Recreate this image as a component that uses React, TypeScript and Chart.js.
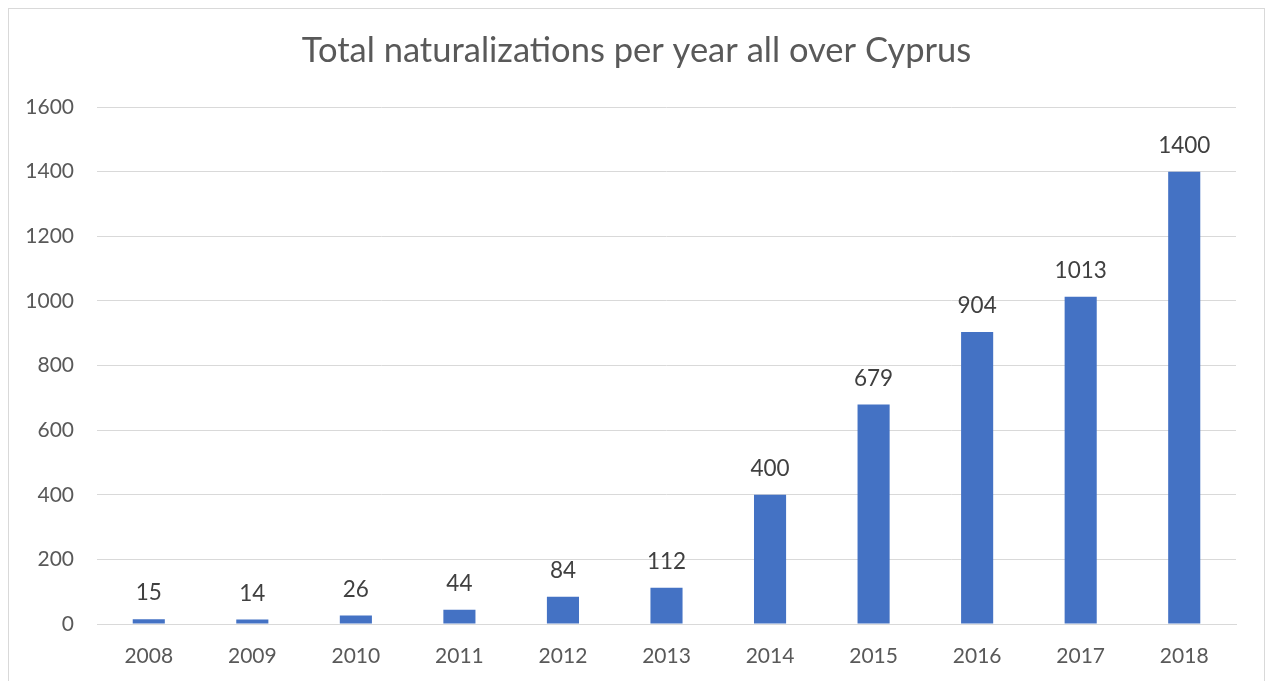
import React, { useEffect, useRef } from "react";
import { Chart, registerables } from "chart.js";

Chart.register(...registerables);

const years = ["2008", "2009", "2010", "2011", "2012", "2013", "2014", "2015", "2016", "2017", "2018"];
const naturalizations = [15, 14, 26, 44, 84, 112, 400, 679, 904, 1013, 1400];
const titleText = "Total naturalizations per year all over Cyprus";
const yMin = 0;
const yMax = 1600;
const yStep = 200;

const FONT = "Lato, 'Open Sans', sans-serif";

const labelPlugin = {
  id: "barLabels",
  afterDatasetsDraw(chart: any) {
    const ctx = chart.ctx;
    const meta = chart.getDatasetMeta(0);
    ctx.save();
    ctx.font = `22.5px ${FONT}`;
    ctx.fillStyle = "#404040";
    ctx.textAlign = "center";
    ctx.textBaseline = "middle";
    meta.data.forEach((bar: any, i: number) => {
      ctx.fillText(String(naturalizations[i]), bar.x, bar.y - 26);
    });
    ctx.restore();
  },
};

const titlePlugin = {
  id: "centeredTitle",
  afterDraw(chart: any) {
    const ctx = chart.ctx;
    ctx.save();
    ctx.font = `34.5px ${FONT}`;
    ctx.fillStyle = "#595959";
    ctx.textAlign = "center";
    ctx.textBaseline = "middle";
    ctx.fillText(titleText, chart.width / 2, 42);
    ctx.restore();
  },
};

export default function App() {
  const ref = useRef<HTMLCanvasElement | null>(null);
  useEffect(() => {
    document.documentElement.style.overflow = "hidden";
    document.body.style.overflow = "hidden";
    const chart = new Chart(ref.current as HTMLCanvasElement, {
      type: "bar",
      data: {
        labels: years,
        datasets: [
          {
            data: naturalizations,
            backgroundColor: "#4472C4",
            barPercentage: 0.31,
            categoryPercentage: 1,
          },
        ],
      },
      options: {
        animation: false,
        responsive: false,
        devicePixelRatio: 1,
        layout: { padding: { left: 0, right: 28, top: 98, bottom: 0 } },
        plugins: {
          legend: { display: false },
          tooltip: { enabled: false },
          title: { display: false },
        },
        scales: {
          x: {
            grid: { display: false, drawTicks: false },
            border: { display: true, color: "#d9d9d9", width: 1 },
            ticks: {
              color: "#595959",
              font: { family: FONT, size: 21 },
              padding: 20,
              maxRotation: 0,
            },
            afterFit(scale: any) {
              scale.height = 73;
            },
          },
          y: {
            min: yMin,
            max: yMax,
            grid: { color: "#d9d9d9", lineWidth: 1, drawTicks: false },
            border: { display: false },
            ticks: {
              stepSize: yStep,
              color: "#595959",
              font: { family: FONT, size: 21 },
              padding: 23,
              callback: (v: any) => String(v),
            },
            afterFit(scale: any) {
              scale.width = 88;
            },
          },
        },
      },
      plugins: [labelPlugin, titlePlugin],
    } as any);
    return () => chart.destroy();
  }, []);
  return (
    <div
      style={{
        position: "absolute",
        left: 8,
        top: 8,
        width: 1257,
        height: 690,
        boxSizing: "border-box",
        border: "1px solid #d9d9d9",
        background: "#fff",
      }}
    >
      <canvas ref={ref} width={1255} height={688} style={{ display: "block" }} />
    </div>
  );
}
